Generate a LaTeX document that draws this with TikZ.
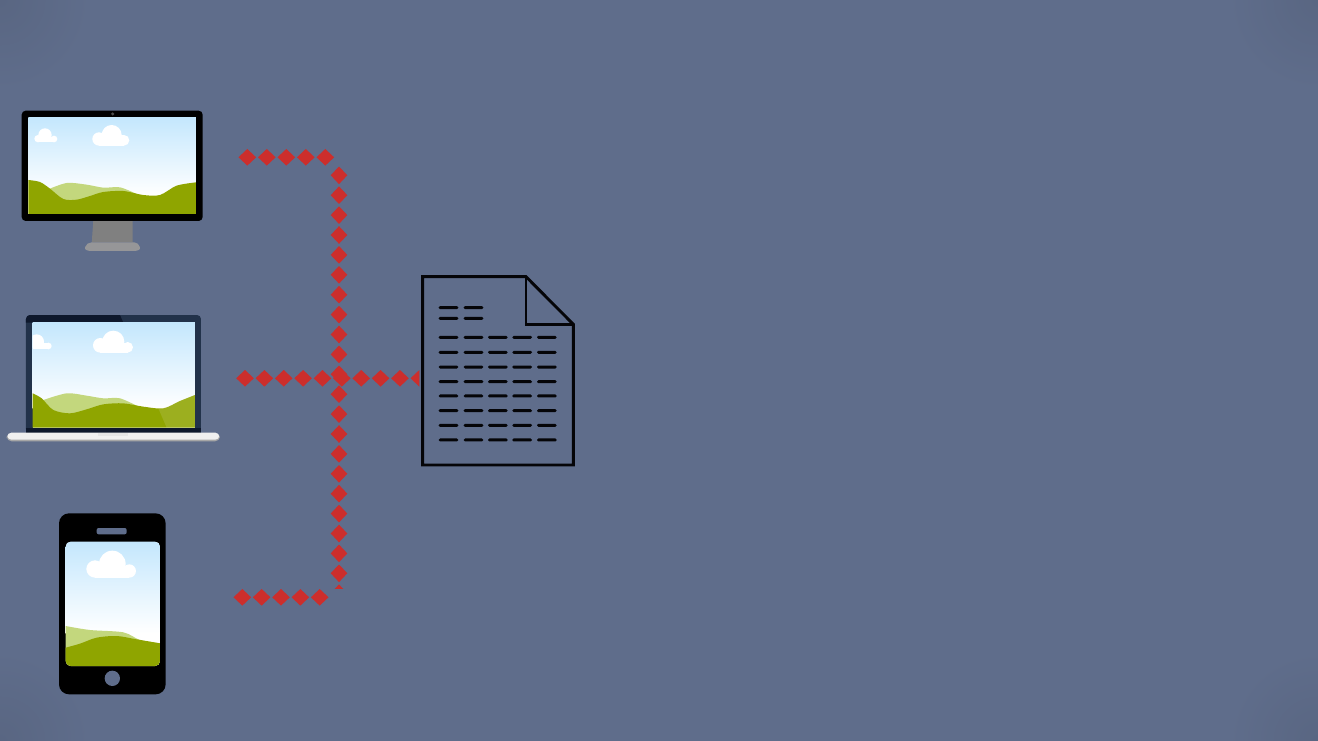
\documentclass[tikz,border=0pt]{standalone}
\usetikzlibrary{decorations.markings}
\definecolor{bgblue}{RGB}{95,109,139}
\definecolor{bgedge}{RGB}{89,102,130}
\definecolor{dotred}{RGB}{204,46,44}
\definecolor{skytop}{RGB}{196,231,253}
\definecolor{hilldark}{RGB}{143,165,0}
\definecolor{hilllight}{RGB}{195,215,125}
\definecolor{bezel}{RGB}{34,50,74}
\definecolor{bezeldark}{RGB}{14,24,44}
\definecolor{standgrey}{RGB}{128,128,128}
\definecolor{basegrey}{RGB}{150,150,152}
\definecolor{inkblack}{RGB}{5,5,8}
\tikzset{
  diamonddots/.style={decorate,decoration={markings,
    mark=between positions 0 and 1 step #1 with {
      \fill[dotred] (8.8pt,0pt)--(0pt,8.3pt)--(-8.8pt,0pt)--(0pt,-8.3pt)--cycle;}}},
  docline/.style={draw=inkblack,line width=2.9pt,line join=miter},
  docdash/.style={fill=inkblack,rounded corners=1.4pt},
  cloudpuff/.style={fill=white,draw=none},
  cornerglow/.style={inner color=bgedge,outer color=bgblue}
}
\begin{document}
\begin{tikzpicture}[x=1pt,y=-1pt]
\useasboundingbox (0,0) rectangle (1318,741);
\fill[bgblue] (0,0) rectangle (1318,741);
\begin{scope}
  \clip (0,0) rectangle (1318,741);
  \shade[cornerglow] (0,0) circle (90);
  \shade[cornerglow] (1318,0) circle (90);
  \shade[cornerglow] (0,741) circle (90);
  \shade[cornerglow] (1318,741) circle (90);
\end{scope}

% named connector ends
\coordinate (topA) at (247.3,157.3);
\coordinate (topB) at (326,157.3);
\coordinate (busA) at (339,175.3);
\coordinate (busB) at (339,594);
\coordinate (midA) at (245,378.3);
\coordinate (midB) at (419.6,378.3);
\coordinate (lowA) at (242.3,597.3);
\coordinate (lowB) at (320.5,597.3);

% connectors
\path[diamonddots=19.5pt] (topA) -- (topB);
\begin{scope}
  \clip (320,160) rectangle (360,588);
  \path[diamonddots=19.9pt] (busA) -- (busB);
\end{scope}
\begin{scope}
  \clip (230,360) rectangle (419.3,400);
  \path[diamonddots=19.37pt] (midA) -- (midB);
\end{scope}
\path[diamonddots=19.35pt] (lowA) -- (lowB);

% monitor
\begin{scope}[shift={(0,90)},scale=0.33333]
  \fill[standgrey] (280,390) to[out=85,in=-100] (277,457) -- (400,457) to[out=-100,in=85] (397,390) -- cycle;
  \fill[basegrey] (275,457) -- (403,457) to[out=0,in=110] (420,472) to[out=-70,in=0] (400,483) -- (275,483) to[out=180,in=-110] (255,472) to[out=70,in=180] (275,457) -- cycle;
  \fill[black,rounded corners=4pt] (65,62) rectangle (608,393);
  \fill[gray!60!black] (338,72) circle (5);
  \fill[white] (85,83) rectangle (588,372);
  \shade[top color=skytop,bottom color=white] (85,83) rectangle (588,315);
  \fill[hilllight] plot[smooth] coordinates {(140,300) (200,279) (260,284) (310,293) (360,292) (410,312)} -- (410,340) -- (140,340) -- cycle;
  \fill[hilldark] plot[smooth] coordinates {(85,270) (120,276) (150,296) (190,327) (230,329) (270,318) (310,306) (370,303) (430,315) (480,315) (530,287) (588,277)} -- (588,372) -- (85,372) -- cycle;
  \fill[cloudpuff] (335,135) circle (30);
  \fill[cloudpuff] (297,147) circle (20);
  \fill[cloudpuff] (372,151) circle (16);
  \fill[cloudpuff] (297,135) rectangle (372,167);
  \fill[cloudpuff] (135,135) circle (20);
  \fill[cloudpuff] (114,146) circle (11);
  \fill[cloudpuff] (162,147) circle (10);
  \fill[cloudpuff] (114,140) rectangle (162,157);
\end{scope}

% laptop
\begin{scope}[shift={(0,300)},scale=0.33333]
  \fill[bezel,rounded corners=4pt] (78,45) rectangle (603,400);
  \begin{scope}
    \clip[rounded corners=4pt] (78,45) rectangle (603,400);
    \fill[bezeldark] (78,45) -- (360,45) -- (370,68) -- (78,68) -- cycle;
  \end{scope}
  \begin{scope}
    \clip (98,68) rectangle (585,383);
    \fill[white] (98,68) rectangle (585,383);
    \shade[top color=skytop,bottom color=white] (98,68) rectangle (585,325);
    \fill[hilllight] plot[smooth] coordinates {(130,300) (200,280) (260,287) (310,295) (360,295) (420,322)} -- (420,345) -- (130,345) -- cycle;
    \fill[hilldark] plot[smooth] coordinates {(98,280) (125,295) (160,330) (210,340) (260,328) (310,313) (370,310) (430,320) (490,325) (540,303) (585,285)} -- (585,383) -- (98,383) -- cycle;
    \fill[white,opacity=0.12] (475,325) -- (500,383) -- (585,383) -- (585,285) -- (540,303) -- (490,325) -- cycle;
    \fill[cloudpuff] (340,125) circle (33);
    \fill[cloudpuff] (301,136) circle (22);
    \fill[cloudpuff] (383,142) circle (16);
    \fill[cloudpuff] (301,130) rectangle (383,158);
    \fill[cloudpuff] (110,125) circle (22);
    \fill[cloudpuff] (145,138) circle (10);
    \fill[cloudpuff] (98,130) rectangle (145,148);
  \end{scope}
  \fill[bezeldark] (78,383) rectangle (603,398);
  \fill[gray!70,rounded corners=5pt] (20,400) rectangle (660,424);
  \fill[white!94!black,rounded corners=4pt] (22,398) rectangle (658,419);
  \fill[gray!20] (295,398) rectangle (385,408);
\end{scope}

% phone
\begin{scope}[shift={(40,500)},scale=0.33333]
  \fill[black,rounded corners=10pt] (57,40) rectangle (377,583);
  \begin{scope}
    \clip[rounded corners=5pt] (77,125) rectangle (360,498);
    \fill[white] (77,125) rectangle (360,498);
    \shade[top color=skytop,bottom color=white] (77,125) rectangle (360,400);
    \fill[hilllight] plot[smooth] coordinates {(77,378) (150,390) (250,397) (300,420) (360,430)} -- (360,498) -- (77,498) -- cycle;
    \fill[hilldark] plot[smooth] coordinates {(77,443) (120,431) (170,413) (230,408) (290,418) (360,430)} -- (360,498) -- (77,498) -- cycle;
    \fill[cloudpuff] (217,192) circle (40);
    \fill[cloudpuff] (165,207) circle (26);
    \fill[cloudpuff] (268,213) circle (20);
    \fill[cloudpuff] (165,200) rectangle (268,233);
  \end{scope}
  \fill[bgblue,rounded corners=2pt] (170,84) rectangle (260,103);
  \fill[bgblue] (217,535) circle (23);
\end{scope}

% document
\begin{scope}[shift={(410,265)},scale=0.33333]
  \draw[docline] (38,35) -- (348,35) -- (490,178) -- (490,600) -- (38,600) -- cycle;
  \draw[docline] (348,35) -- (348,178) -- (490,178);
  \foreach \y in {128,160} \foreach \x in {86,161}
    \fill[docdash] (\x,\y-4.5) rectangle (\x+59,\y+4.5);
  \foreach \y in {217,262,306,350,393,437,481,525}
    \foreach \x in {86,161,234,307,381}
      \fill[docdash] (\x,\y-4.5) rectangle (\x+59,\y+4.5);
\end{scope}
\end{tikzpicture}
\end{document}
